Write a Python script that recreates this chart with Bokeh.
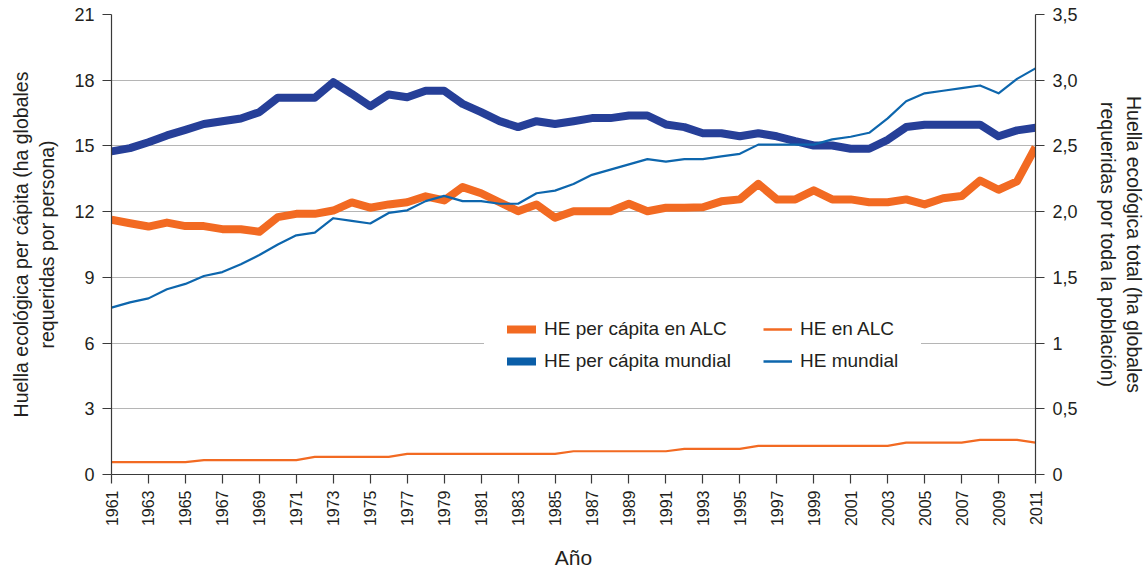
import numpy as np
from bokeh.plotting import figure
from bokeh.models import (Range1d, LinearAxis, FixedTicker, Legend, LegendItem,
                          ColumnDataSource)
from bokeh.embed import file_html
from bokeh.resources import INLINE

# ---------------- data ----------------
years = list(range(1961, 2012))

he_pc_alc = [11.63, 11.47, 11.32, 11.50, 11.34, 11.34, 11.20, 11.20, 11.08, 11.75,
             11.90, 11.90, 12.05, 12.42, 12.18, 12.33, 12.43, 12.70, 12.51, 13.12,
             12.84, 12.43, 12.02, 12.33, 11.72, 12.02, 12.02, 12.02, 12.36, 12.02,
             12.18, 12.18, 12.20, 12.47, 12.56, 13.27, 12.56, 12.56, 12.97, 12.56,
             12.56, 12.43, 12.43, 12.56, 12.33, 12.61, 12.71, 13.42, 13.00, 13.38,
             14.94]

he_pc_mundial = [14.75, 14.90, 15.17, 15.48, 15.73, 16.00, 16.13, 16.25, 16.54, 17.20,
                 17.20, 17.20, 17.91, 17.38, 16.81, 17.35, 17.22, 17.52, 17.52, 16.92,
                 16.54, 16.13, 15.86, 16.13, 16.00, 16.13, 16.27, 16.27, 16.39, 16.39,
                 15.98, 15.86, 15.58, 15.58, 15.44, 15.58, 15.44, 15.22, 15.02, 15.02,
                 14.87, 14.87, 15.28, 15.86, 15.97, 15.97, 15.97, 15.97, 15.44, 15.71,
                 15.83]

he_alc = [0.094, 0.094, 0.094, 0.094, 0.094, 0.110, 0.110, 0.110, 0.110, 0.110,
          0.110, 0.134, 0.134, 0.134, 0.134, 0.134, 0.157, 0.157, 0.157, 0.157,
          0.157, 0.157, 0.157, 0.157, 0.157, 0.177, 0.177, 0.177, 0.177, 0.177,
          0.177, 0.195, 0.195, 0.195, 0.195, 0.218, 0.218, 0.218, 0.218, 0.218,
          0.218, 0.218, 0.218, 0.243, 0.243, 0.243, 0.243, 0.264, 0.264, 0.264,
          0.243]

he_mundial = [1.27, 1.31, 1.34, 1.41, 1.45, 1.51, 1.54, 1.60, 1.67, 1.75,
              1.82, 1.84, 1.95, 1.93, 1.91, 1.99, 2.01, 2.08, 2.12, 2.08,
              2.08, 2.06, 2.06, 2.14, 2.16, 2.21, 2.28, 2.32, 2.36, 2.40,
              2.38, 2.40, 2.40, 2.42, 2.44, 2.51, 2.51, 2.51, 2.51, 2.55,
              2.57, 2.60, 2.71, 2.84, 2.90, 2.92, 2.94, 2.96, 2.90, 3.01,
              3.09]

x_ticks = list(range(1961, 2012, 2))
left_ticks = [0, 3, 6, 9, 12, 15, 18, 21]
right_ticks = [0, 0.5, 1, 1.5, 2, 2.5, 3, 3.5]
right_tick_labels = ["0", "0,5", "1", "1,5", "2,0", "2,5", "3,0", "3,5"]

legend_labels = ["HE per cápita en ALC", "HE per cápita mundial", "HE en ALC", "HE mundial"]

# ---------------- style ----------------
FONT = "Liberation Sans"
TXT = "#231f20"
ORANGE = "#f26a22"
NAVY = "#263f98"
BLUE = "#0d66ad"
LEG_BLUE = "#0a5ea8"

p = figure(width=1147, height=573, output_backend="svg", toolbar_location=None,
           x_range=Range1d(1961, 2011), y_range=Range1d(0, 21),
           min_border_left=111, min_border_right=110, min_border_top=14,
           min_border_bottom=99)
p.extra_y_ranges = {"total": Range1d(0, 3.5)}
p.outline_line_color = None
p.background_fill_color = "white"
p.border_fill_color = "white"

src = ColumnDataSource(dict(year=years, pc_alc=he_pc_alc, pc_mun=he_pc_mundial,
                            alc=he_alc, mun=he_mundial))

p.line("year", "pc_alc", source=src, line_color=ORANGE, line_width=8,
       line_join="round")
p.line("year", "pc_mun", source=src, line_color=NAVY, line_width=8,
       line_join="round")
p.line("year", "alc", source=src, y_range_name="total", line_color=ORANGE,
       line_width=2.2, line_join="round")
p.line("year", "mun", source=src, y_range_name="total", line_color=BLUE,
       line_width=2.2, line_join="round")

# legend proxies (no visible data)
def proxy(color, width, cap):
    s = ColumnDataSource(dict(x=[np.nan], y=[np.nan]))
    return p.line("x", "y", source=s, line_color=color, line_width=width, line_cap=cap)

r1 = proxy(ORANGE, 8, "round")
r2 = proxy(LEG_BLUE, 8, "round")
r3 = proxy(ORANGE, 2.5, "butt")
r4 = proxy(BLUE, 2.5, "butt")

leg_kw = dict(orientation="vertical", label_text_font=FONT, label_text_font_size="19px",
              label_text_color=TXT, glyph_width=29, glyph_height=20,
              label_standoff=8, spacing=10, padding=23,
              border_line_alpha=0, background_fill_color="white",
              background_fill_alpha=1.0)

legend_a = Legend(items=[LegendItem(label=legend_labels[0], renderers=[r1]),
                         LegendItem(label=legend_labels[1], renderers=[r2])],
                  location=(373, 79), **leg_kw)
legend_b = Legend(items=[LegendItem(label=legend_labels[2], renderers=[r3]),
                         LegendItem(label=legend_labels[3], renderers=[r4])],
                  location=(629, 79), **leg_kw)
p.add_layout(legend_a, "center")
p.add_layout(legend_b, "center")

# grid
p.xgrid.visible = False
p.ygrid.ticker = FixedTicker(ticks=left_ticks)
p.ygrid.grid_line_color = "#b5b5b5"
p.ygrid.grid_line_width = 1.2


def style_axis(ax):
    ax.axis_line_color = "#3a3a3a"
    ax.major_tick_line_color = "#3a3a3a"
    ax.axis_line_width = 1.2
    ax.major_tick_line_width = 1.2
    ax.minor_tick_line_color = None
    ax.major_tick_out = 9
    ax.major_tick_in = 0
    ax.major_label_text_font = FONT
    ax.major_label_text_color = TXT
    ax.axis_label_text_font = FONT
    ax.axis_label_text_color = TXT
    ax.axis_label_text_font_style = "normal"
    ax.axis_label_text_font_size = "19.5px"
    ax.major_label_standoff = 8


# x axis
xa = p.xaxis[0]
style_axis(xa)
xa.ticker = FixedTicker(ticks=x_ticks)
xa.major_label_orientation = np.pi / 2
xa.major_label_text_font_size = "16px"
xa.major_label_standoff = 7
xa.axis_label = "Año"
xa.axis_label_text_font_size = "21px"
xa.axis_label_standoff = 17

# left axis
ya = p.yaxis[0]
style_axis(ya)
ya.ticker = FixedTicker(ticks=left_ticks)
ya.major_label_text_font_size = "18px"
ya.axis_label = "Huella ecológica per cápita (ha globales\nrequeridas por persona)"
ya.axis_label_standoff = 13

# right axis
ra = LinearAxis(y_range_name="total")
style_axis(ra)
ra.ticker = FixedTicker(ticks=right_ticks)
ra.major_label_overrides = {t: l for t, l in zip(right_ticks, right_tick_labels)}
ra.major_label_text_font_size = "18px"
ra.axis_label = "Huella ecológica total (ha globales\nrequeridas por toda la población)"
ra.axis_label_standoff = 16
p.add_layout(ra, "right")

open("out.html", "w").write(file_html(p, INLINE))
